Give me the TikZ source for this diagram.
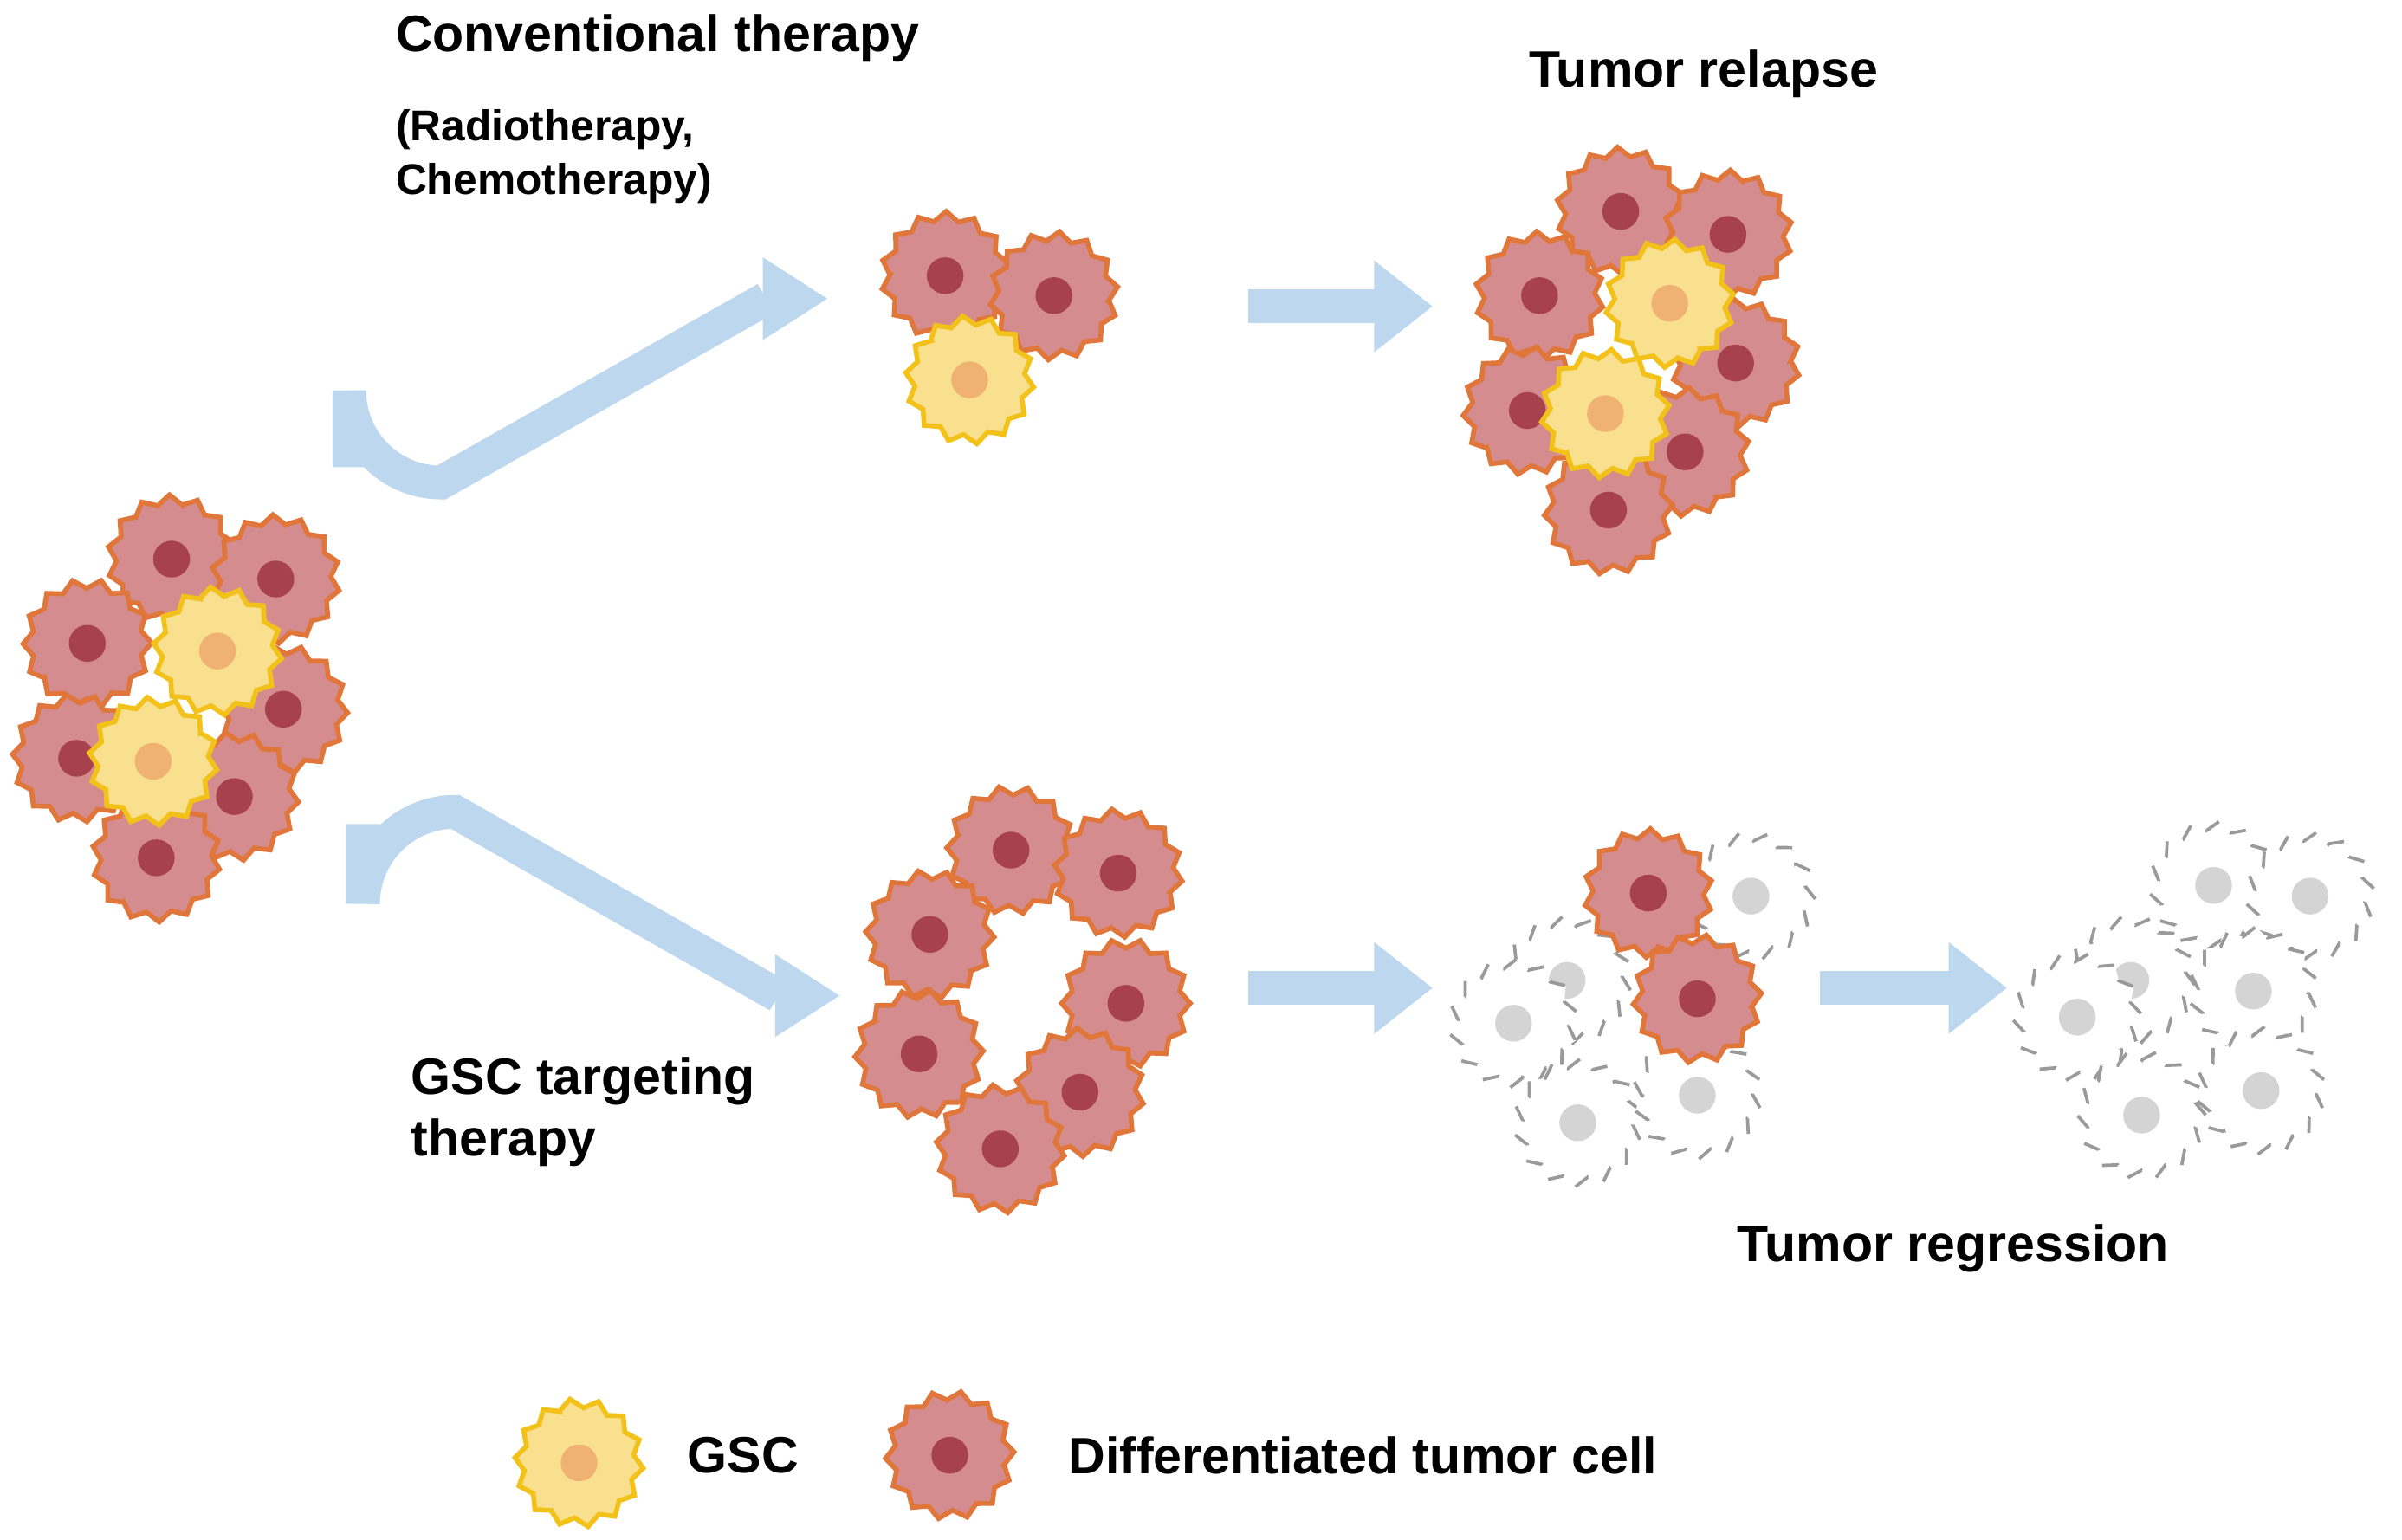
\documentclass[tikz,border=0pt]{standalone}
\usepackage{fontspec}
\setmainfont{Liberation Sans}
\begin{document}
\definecolor{rfill}{HTML}{D48C8E}\definecolor{rdraw}{HTML}{E0763A}\definecolor{rnuc}{HTML}{A8414E}
\definecolor{yfill}{HTML}{F9E08F}\definecolor{ydraw}{HTML}{F2C21A}\definecolor{ynuc}{HTML}{F0B272}
\definecolor{gdraw}{HTML}{9A9A9A}\definecolor{gnuc}{HTML}{D4D4D4}
\definecolor{arr}{HTML}{BDD7EE}
\begin{tikzpicture}[x=0.01cm,y=-0.01cm,
 red/.style={fill=rfill,draw=rdraw,line width=0.9pt},
 yel/.style={fill=yfill,draw=ydraw,line width=0.9pt},
 gho/.style={fill=white,draw=gdraw,dashed,line width=0.6pt},
 rn/.style={fill=rnuc},yn/.style={fill=ynuc},gn/.style={fill=gnuc},
 lbl/.style={font=\bfseries\fontsize{9.5}{11.5}\selectfont,align=left},
 sub/.style={font=\bfseries\fontsize{8}{10}\selectfont,align=left},
 shaft/.style={draw=arr,line width=0.22cm},
 head/.style={fill=arr}]
\useasboundingbox (0,0) rectangle (1568,1005);
\newcommand\cell[4]{\begin{scope}[shift={(#1,#2)},rotate=#1*7+#2*3]
 \path[#3] plot[samples=29,domain=0:360,variable=\t] (\t:{36+6*mod(round(\t/12.857),2)}) -- cycle;
 \fill[#4] (0,0) circle (12);\end{scope}}
% initial
\foreach \p in {(112,365),(180,378),(57,420),(185,463),(50,495),(153,520),(102,560)}{\path \p coordinate(q);}
\cell{112}{365}{red}{rn}\cell{180}{378}{red}{rn}\cell{57}{420}{red}{rn}\cell{185}{463}{red}{rn}
\cell{50}{495}{red}{rn}\cell{153}{520}{red}{rn}\cell{102}{560}{red}{rn}
\cell{142}{425}{yel}{yn}\cell{100}{497}{yel}{yn}
% top middle
\cell{617}{180}{red}{rn}\cell{688}{193}{red}{rn}\cell{633}{248}{yel}{yn}
% top right
\cell{1058}{138}{red}{rn}\cell{1128}{153}{red}{rn}\cell{1005}{193}{red}{rn}\cell{1133}{237}{red}{rn}
\cell{997}{268}{red}{rn}\cell{1100}{295}{red}{rn}\cell{1050}{333}{red}{rn}
\cell{1090}{198}{yel}{yn}\cell{1048}{270}{yel}{yn}
% bottom middle
\cell{660}{555}{red}{rn}\cell{730}{570}{red}{rn}\cell{607}{610}{red}{rn}\cell{735}{655}{red}{rn}
\cell{600}{688}{red}{rn}\cell{705}{713}{red}{rn}\cell{653}{750}{red}{rn}
% bottom right
\cell{1143}{585}{gho}{gn}\cell{1023}{640}{gho}{gn}\cell{988}{668}{gho}{gn}\cell{1030}{733}{gho}{gn}\cell{1108}{715}{gho}{gn}
\cell{1076}{583}{red}{rn}\cell{1108}{652}{red}{rn}
% far right
\cell{1445}{578}{gho}{gn}\cell{1508}{585}{gho}{gn}\cell{1391}{640}{gho}{gn}\cell{1471}{647}{gho}{gn}
\cell{1356}{664}{gho}{gn}\cell{1398}{728}{gho}{gn}\cell{1476}{712}{gho}{gn}
% legend
\cell{378}{955}{yel}{yn}\cell{620}{950}{red}{rn}
% arrows
\draw[shaft] (228,305) -- (228,255) arc[start angle=180,end angle=90,radius=60] -- (500,195);
\fill[head] (498,168) -- (540,195) -- (498,222) -- cycle;
\draw[shaft] (237,538) -- (237,590) arc[start angle=180,end angle=270,radius=60] -- (508,650);
\fill[head] (506,623) -- (548,650) -- (506,677) -- cycle;
\foreach \a/\b/\yy in {815/935/200,815/935/645,1188/1310/645}{
 \draw[shaft] (\a,\yy) -- (\b-36,\yy);
 \fill[head] (\b-38,\yy-30) -- (\b,\yy) -- (\b-38,\yy+30) -- cycle;}
% labels
\node[lbl,anchor=west] (t1) at (246,25) {Conventional therapy};
\node[sub,anchor=west] (t2) at (246,102) {(Radiotherapy,\\Chemotherapy)};
\node[lbl] (t3) at (1112,48) {Tumor relapse};
\node[lbl,anchor=west] (t4) at (256,726) {GSC targeting\\therapy};
\node[lbl] (t5) at (1275,815) {Tumor regression};
\node[lbl] (t6) at (485,950) {GSC};
\node[lbl,anchor=west] (t7) at (685,950) {Differentiated tumor cell};
\end{tikzpicture}
\end{document}
